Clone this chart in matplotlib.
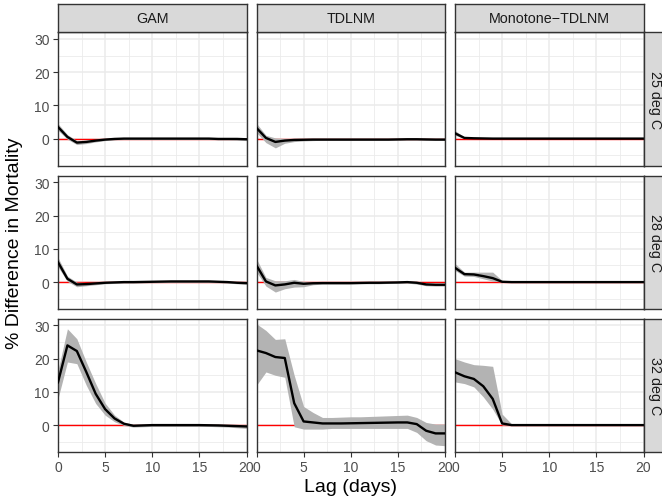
import numpy as np
import matplotlib
matplotlib.use("Agg")
import matplotlib.pyplot as plt

plt.rcParams['font.family'] = ['Liberation Sans', 'DejaVu Sans']

lags = np.arange(21)
models = ["GAM", "TDLNM", "Monotone\u2212TDLNM"]
temps = ["25 deg C", "28 deg C", "32 deg C"]

# 25 deg C
gam25_est = [3.5, 0.5, -1.2, -1.0, -0.6, -0.3, -0.1, 0, 0, 0, 0, 0, 0, 0, 0, 0, 0, -0.1, -0.1, -0.1, -0.2]
gam25_lo = [2.5, -0.2, -1.8, -1.5, -1.0, -0.6, -0.4, -0.3, -0.3, -0.3, -0.3, -0.3, -0.3, -0.3, -0.3, -0.3, -0.3, -0.4, -0.4, -0.5, -0.6]
gam25_hi = [4.5, 1.2, -0.6, -0.5, -0.2, 0.0, 0.2, 0.3, 0.3, 0.3, 0.3, 0.3, 0.3, 0.3, 0.3, 0.3, 0.3, 0.2, 0.2, 0.2, 0.2]
tdl25_est = [3.2, 0.2, -1.0, -0.6, -0.4, -0.35, -0.3, -0.3, -0.3, -0.3, -0.3, -0.3, -0.3, -0.3, -0.3, -0.25, -0.2, -0.2, -0.25, -0.3, -0.3]
tdl25_lo = [1.8, -1.2, -2.8, -1.4, -0.9, -0.7, -0.6, -0.5, -0.5, -0.5, -0.5, -0.5, -0.5, -0.5, -0.5, -0.5, -0.4, -0.4, -0.5, -0.5, -0.5]
tdl25_hi = [4.6, 1.0, 0.2, 0.0, -0.1, -0.1, -0.1, -0.1, -0.1, -0.1, -0.1, -0.1, -0.1, -0.1, -0.1, -0.05, 0.0, 0.0, -0.1, -0.1, -0.1]
mon25_est = [1.6, 0.2, 0.1, 0.05, 0, 0, 0, 0, 0, 0, 0, 0, 0, 0, 0, 0, 0, 0, 0, 0, 0]
mon25_lo = [1.0, 0.0, 0, 0, 0, 0, 0, 0, 0, 0, 0, 0, 0, 0, 0, 0, 0, 0, 0, 0, 0]
mon25_hi = [2.4, 0.5, 0.2, 0.1, 0, 0, 0, 0, 0, 0, 0, 0, 0, 0, 0, 0, 0, 0, 0, 0, 0]

# 28 deg C
gam28_est = [6.0, 1.0, -0.7, -0.6, -0.4, -0.2, -0.1, 0, 0, 0.05, 0.1, 0.15, 0.2, 0.2, 0.2, 0.2, 0.2, 0.1, 0, -0.2, -0.3]
gam28_lo = [4.6, 0.2, -1.4, -1.1, -0.8, -0.5, -0.4, -0.3, -0.3, -0.25, -0.2, -0.15, -0.1, -0.1, -0.1, -0.1, -0.1, -0.2, -0.3, -0.5, -0.7]
gam28_hi = [7.4, 1.8, 0.0, -0.1, 0.0, 0.1, 0.2, 0.3, 0.3, 0.35, 0.4, 0.45, 0.5, 0.5, 0.5, 0.5, 0.5, 0.4, 0.3, 0.1, 0.1]
tdl28_est = [5.0, 0.2, -1.0, -0.7, -0.2, -0.5, -0.35, -0.3, -0.3, -0.3, -0.3, -0.25, -0.2, -0.2, -0.15, -0.1, 0.0, -0.2, -0.7, -0.8, -0.8]
tdl28_lo = [3.0, -1.2, -3.0, -2.0, -1.5, -1.4, -0.8, -0.6, -0.6, -0.6, -0.6, -0.5, -0.5, -0.5, -0.4, -0.4, -0.3, -0.6, -1.1, -1.2, -1.2]
tdl28_hi = [7.0, 1.4, 0.4, 0.4, 0.8, 0.2, 0.0, -0.1, -0.1, -0.1, -0.1, 0.0, 0.1, 0.1, 0.1, 0.2, 0.3, 0.2, -0.3, -0.4, -0.4]
mon28_est = [4.3, 2.4, 2.3, 1.8, 1.2, 0.1, 0, 0, 0, 0, 0, 0, 0, 0, 0, 0, 0, 0, 0, 0, 0]
mon28_lo = [3.5, 1.8, 1.7, 1.0, 0.3, 0.0, 0, 0, 0, 0, 0, 0, 0, 0, 0, 0, 0, 0, 0, 0, 0]
mon28_hi = [5.6, 3.0, 3.0, 3.0, 3.0, 0.5, 0.1, 0, 0, 0, 0, 0, 0, 0, 0, 0, 0, 0, 0, 0, 0]

# 32 deg C
gam32_est = [12.9, 24.0, 22.3, 16.0, 9.4, 4.8, 2.0, 0.4, -0.2, -0.1, 0, 0, 0, 0, 0, 0, -0.05, -0.1, -0.2, -0.3, -0.4]
gam32_lo = [8.0, 19.0, 18.5, 12.0, 6.5, 3.0, 1.0, -0.1, -0.6, -0.5, -0.4, -0.4, -0.4, -0.4, -0.4, -0.4, -0.4, -0.5, -0.6, -0.8, -1.0]
gam32_hi = [16.5, 29.0, 26.0, 19.0, 12.5, 6.6, 3.0, 0.9, 0.2, 0.3, 0.4, 0.4, 0.4, 0.4, 0.4, 0.4, 0.3, 0.3, 0.2, 0.1, 0.1]
tdl32_est = [22.5, 21.7, 20.5, 20.2, 6.6, 1.1, 0.8, 0.5, 0.5, 0.5, 0.55, 0.6, 0.65, 0.7, 0.75, 0.8, 0.8, 0.3, -1.7, -2.5, -2.5]
tdl32_lo = [12.0, 16.0, 15.0, 14.4, -0.5, -1.2, -1.2, -1.2, -1.0, -1.0, -1.0, -1.0, -1.0, -1.0, -1.0, -1.0, -1.0, -2.2, -4.7, -6.0, -6.2]
tdl32_hi = [30.5, 28.5, 25.8, 26.0, 15.0, 5.6, 3.8, 2.3, 2.3, 2.4, 2.5, 2.5, 2.6, 2.7, 2.8, 2.9, 3.0, 2.3, 0.8, 0.3, 0.3]
mon32_est = [15.9, 14.7, 13.9, 11.7, 7.9, 0.5, 0, 0, 0, 0, 0, 0, 0, 0, 0, 0, 0, 0, 0, 0, 0]
mon32_lo = [13.0, 12.5, 11.5, 8.5, 4.8, 0.0, 0, 0, 0, 0, 0, 0, 0, 0, 0, 0, 0, 0, 0, 0, 0]
mon32_hi = [20.0, 19.0, 18.2, 18.0, 17.7, 3.3, 0.4, 0, 0, 0, 0, 0, 0, 0, 0, 0, 0, 0, 0, 0, 0]

panels = [
    [(gam25_est, gam25_lo, gam25_hi), (tdl25_est, tdl25_lo, tdl25_hi), (mon25_est, mon25_lo, mon25_hi)],
    [(gam28_est, gam28_lo, gam28_hi), (tdl28_est, tdl28_lo, tdl28_hi), (mon28_est, mon28_lo, mon28_hi)],
    [(gam32_est, gam32_lo, gam32_hi), (tdl32_est, tdl32_lo, tdl32_hi), (mon32_est, mon32_lo, mon32_hi)],
]

W, H = 662, 502
fig = plt.figure(figsize=(W / 100, H / 100), dpi=100)

col_left = [58, 256.5, 455]
pw = 188.5
row_top = [33, 176.5, 319.5]
ph = 133.5
border = "#333333"
tick_fs = 10
strip_fs = 10.3

def box(x, y, w, h):
    return [x / W, 1 - (y + h) / H, w / W, h / H]

for r in range(3):
    for c in range(3):
        est, lo, hi = panels[r][c]
        ax = fig.add_axes(box(col_left[c], row_top[r], pw, ph))
        ax.set_xlim(0, 20)
        ax.set_ylim(-8.1, 32.1)
        ax.set_xticks([0, 5, 10, 15, 20])
        ax.set_xticks([2.5, 7.5, 12.5, 17.5], minor=True)
        ax.set_yticks([0, 10, 20, 30])
        ax.set_yticks([-5, 5, 15, 25], minor=True)
        ax.grid(which="major", color="#EBEBEB", lw=1.1, zorder=0)
        ax.grid(which="minor", color="#EBEBEB", lw=0.6, zorder=0)
        ax.set_axisbelow(True)
        ax.axhline(0, color="#FF0000", lw=1.0, zorder=1)
        ax.fill_between(lags, lo, hi, color="#B3B3B3", lw=0, zorder=2)
        ax.plot(lags, est, color="black", lw=1.7, zorder=3)
        for s in ax.spines.values():
            s.set_color(border)
            s.set_linewidth(1.0)
        ax.tick_params(which="major", length=3.5, width=0.8, color=border,
                       labelcolor="#4D4D4D", labelsize=tick_fs, pad=2.5)
        ax.tick_params(which="minor", length=0)
        if c != 0:
            ax.tick_params(axis="y", labelleft=False, length=0)
        if r != 2:
            ax.tick_params(axis="x", labelbottom=False, length=0)

# column strips
for c in range(3):
    sax = fig.add_axes(box(col_left[c], 5, pw, 28))
    sax.set_facecolor("#D9D9D9")
    sax.set_xticks([])
    sax.set_yticks([])
    for s in sax.spines.values():
        s.set_color(border)
        s.set_linewidth(1.0)
    sax.text(0.5, 0.5, models[c], ha="center", va="center", fontsize=strip_fs,
             color="#1A1A1A", transform=sax.transAxes)

# row strips
for r in range(3):
    sax = fig.add_axes(box(643.5, row_top[r], 28, ph))
    sax.set_facecolor("#D9D9D9")
    sax.set_xticks([])
    sax.set_yticks([])
    for s in sax.spines.values():
        s.set_color(border)
        s.set_linewidth(1.0)
    fig.text(655.5 / W, 1 - (row_top[r] + ph / 2) / H, temps[r], rotation=-90,
             ha="center", va="center", fontsize=strip_fs, color="#1A1A1A")

fig.text(350 / W, 1 - 488 / H, "Lag (days)", ha="center", va="center", fontsize=14)
fig.text(15 / W, 1 - 243 / H, "% Difference in Mortality", ha="center", va="center",
         rotation=90, fontsize=14)

fig.savefig("out.png", dpi=100)
